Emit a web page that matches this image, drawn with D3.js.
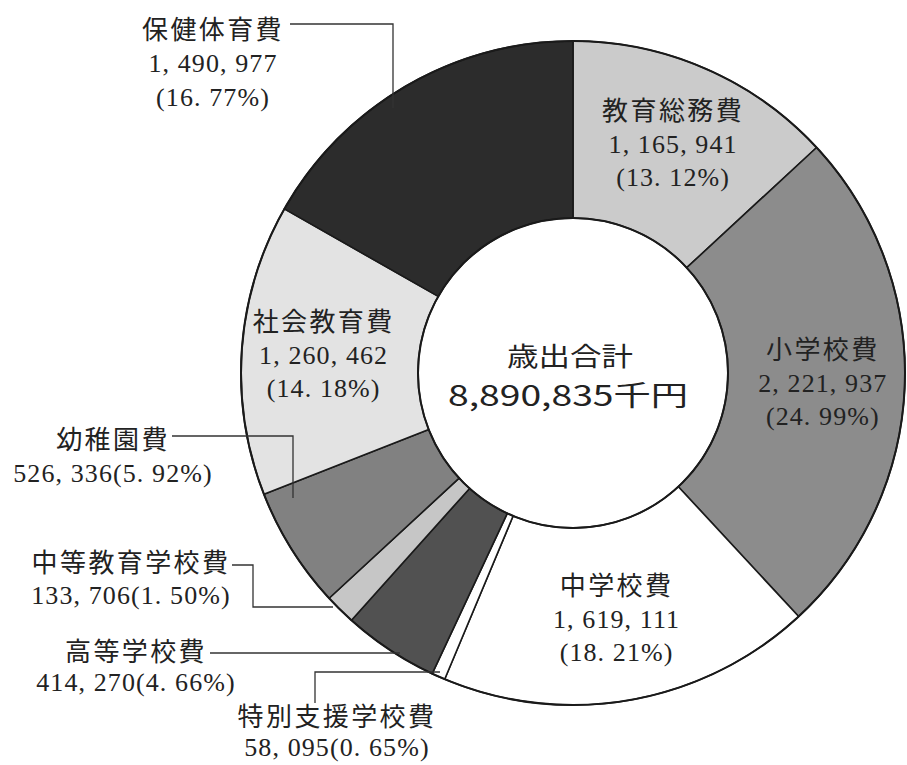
<!DOCTYPE html>
<html>
<head>
<meta charset="utf-8">
<script src="https://cdn.jsdelivr.net/npm/d3@7"></script>
<style>
  html, body { margin: 0; padding: 0; background: #ffffff; }
  svg { display: block; }
</style>
</head>
<body>
<svg id="chart" width="907" height="765"></svg>
<script>
// 歳出内訳（千円）— 12時の位置から時計回り
const categories = ["教育総務費", "小学校費", "中学校費", "特別支援学校費", "高等学校費",
                    "中等教育学校費", "幼稚園費", "社会教育費", "保健体育費"];
const amounts = [1165941, 2221937, 1619111, 58095, 414270, 133706, 526336, 1260462, 1490977];
const shareLabels = ["13.12", "24.99", "18.21", "0.65", "4.66", "1.50", "5.92", "14.18", "16.77"];
const fills = ["#cbcbcb", "#8c8c8c", "#ffffff", "#ffffff", "#515151", "#c6c6c6", "#818181", "#e3e3e3", "#2c2c2c"];
const centerTitle = "歳出合計";
const totalLabel = "8,890,835千円";

const svg = d3.select("#chart");
const cx = 573, cy = 373, outerR = 332, innerR = 155;

const g = svg.append("g").attr("transform", `translate(${cx},${cy})`);

const pie = d3.pie().sort(null).value(d => d.amount);
const data = categories.map((name, i) => ({ name, amount: amounts[i], share: shareLabels[i], fill: fills[i] }));
const arcs = pie(data);

const arc = d3.arc().innerRadius(innerR).outerRadius(outerR);
const labelArc = d3.arc().innerRadius(250).outerRadius(250);

g.selectAll("path.slice")
  .data(arcs)
  .join("path")
  .attr("class", "slice")
  .attr("d", arc)
  .attr("fill", d => d.data.fill)
  .attr("stroke", "#1a1a1a")
  .attr("stroke-width", 1.6)
  .attr("stroke-linejoin", "round");

// Ring borders
g.append("circle").attr("r", outerR).attr("fill", "none").attr("stroke", "#1a1a1a").attr("stroke-width", 2);
g.append("circle").attr("r", innerR).attr("fill", "none").attr("stroke", "#1a1a1a").attr("stroke-width", 2);

const fmtNum = v => d3.format(",")(v).replace(/,/g, ", ");
const fmtPct = s => s.replace(".", ". ") + "%";

const serif = "'Liberation Serif', 'Noto Sans CJK JP', serif";
const textColor = "#222";

// Labels drawn inside the ring
const insideNames = ["教育総務費", "小学校費", "中学校費", "社会教育費"];
const lineGap = 33;
arcs.filter(d => insideNames.includes(d.data.name)).forEach(d => {
  const [lx, ly] = labelArc.centroid(d);
  const lines = [
    { t: d.data.name, ls: 2.4 },
    { t: fmtNum(d.data.amount), ls: 1.1 },
    { t: "(" + fmtPct(d.data.share) + ")", ls: 1.1 }
  ];
  lines.forEach((ln, k) => {
    g.append("text")
      .attr("x", lx)
      .attr("y", ly + (k - 1) * lineGap)
      .attr("dy", "0.35em")
      .attr("text-anchor", "middle")
      .attr("font-family", serif)
      .attr("font-size", 26)
      .attr("letter-spacing", ln.ls)
      .attr("fill", textColor)
      .text(ln.t);
  });
});

// Labels drawn outside the ring, with leader lines
const outside = [
  { name: "保健体育費", x: 213, ys: [30, 63, 97], stacked: true,
    leader: [[290, 24], [393, 24], [393, 108]] },
  { name: "幼稚園費", x: 113, ys: [440, 473], stacked: false,
    leader: [[172, 436], [293, 436], [293, 498]] },
  { name: "中等教育学校費", x: 131, ys: [563, 595], stacked: false,
    leader: [[232, 565], [253, 565], [253, 607], [333, 607]] },
  { name: "高等学校費", x: 136, ys: [652, 682], stacked: false,
    leader: [[210, 653], [400, 653]] },
  { name: "特別支援学校費", x: 337, ys: [717, 747], stacked: false,
    leader: [[315, 703], [315, 672], [440, 672]] }
];

const line = d3.line();
outside.forEach(o => {
  const d = data.find(e => e.name === o.name);
  svg.append("path")
    .attr("d", line(o.leader))
    .attr("fill", "none")
    .attr("stroke", "#333")
    .attr("stroke-width", 1.3);
  const lines = o.stacked
    ? [{ t: d.name, ls: 2.4 }, { t: fmtNum(d.amount), ls: 1.1 }, { t: "(" + fmtPct(d.share) + ")", ls: 1.1 }]
    : [{ t: d.name, ls: 2.4 }, { t: fmtNum(d.amount) + "(" + fmtPct(d.share) + ")", ls: 1.1 }];
  lines.forEach((ln, k) => {
    svg.append("text")
      .attr("x", o.x)
      .attr("y", o.ys[k])
      .attr("dy", "0.35em")
      .attr("text-anchor", "middle")
      .attr("font-family", serif)
      .attr("font-size", 26)
      .attr("letter-spacing", ln.ls)
      .attr("fill", textColor)
      .text(ln.t);
  });
});

// Centre caption
g.append("text")
  .attr("x", -3).attr("y", -16).attr("dy", "0.35em")
  .attr("text-anchor", "middle")
  .attr("font-family", "'Noto Sans CJK JP', sans-serif")
  .attr("font-size", 26)
  .attr("textLength", 126).attr("lengthAdjust", "spacingAndGlyphs")
  .attr("fill", "#222")
  .text(centerTitle);
g.append("text")
  .attr("x", -5).attr("y", 23).attr("dy", "0.35em")
  .attr("text-anchor", "middle")
  .attr("font-family", "'Noto Sans CJK JP', sans-serif")
  .attr("font-size", 28)
  .attr("textLength", 240).attr("lengthAdjust", "spacingAndGlyphs")
  .attr("fill", "#222")
  .text(totalLabel);
</script>
</body>
</html>
